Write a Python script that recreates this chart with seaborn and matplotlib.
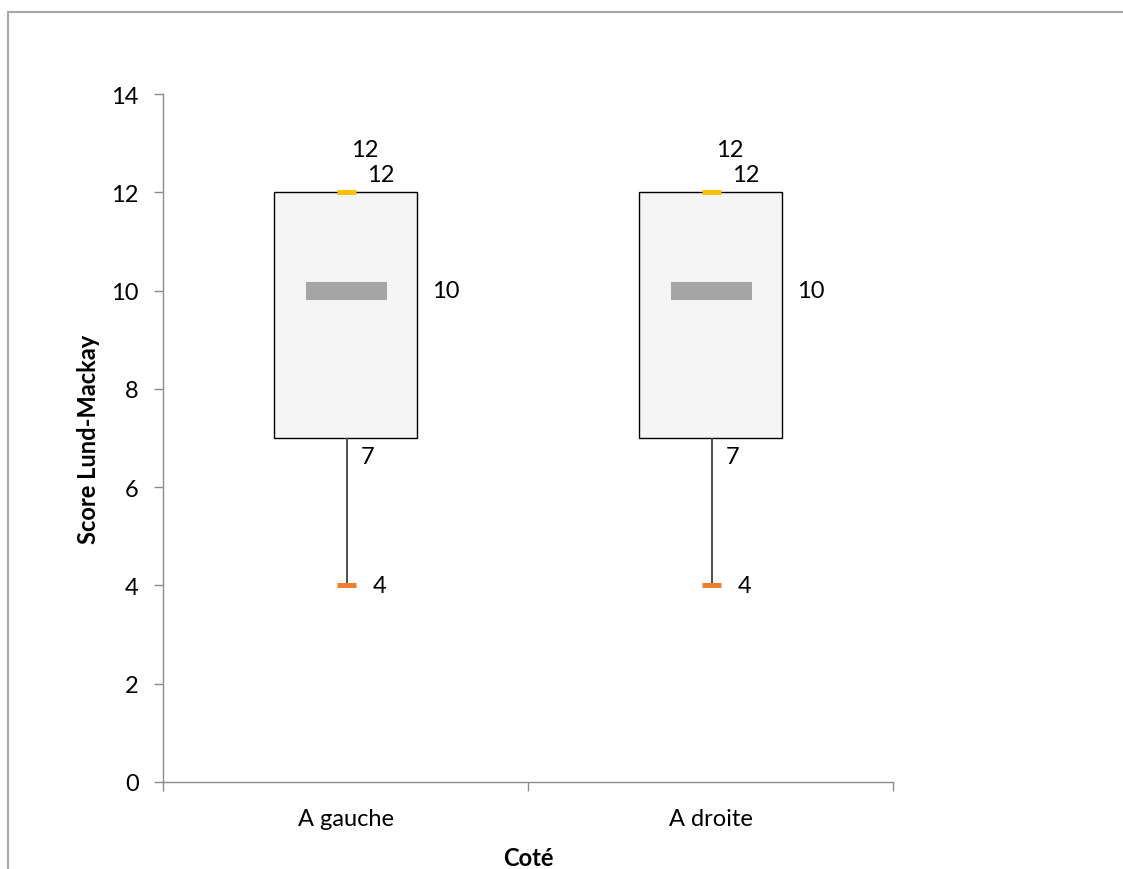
import matplotlib

matplotlib.use("Agg")

import matplotlib.pyplot as plt
import numpy as np
import pandas as pd
import seaborn as sns

# box plot statistics (Excel style stacked box)
categories = ["A gauche", "A droite"]
min_vals = [4, 4]
q1_vals = [7, 7]
median_vals = [10, 10]
q3_vals = [12, 12]
max_vals = [12, 12]

y_ticks = [0, 2, 4, 6, 8, 10, 12, 14]

sns.set_theme(style="white")
plt.rcParams["font.family"] = ["Lato", "DejaVu Sans"]
plt.rcParams["text.color"] = "black"
plt.rcParams["axes.labelcolor"] = "black"

df = pd.DataFrame({
    "cote": categories,
    "q1": q1_vals,
    "box": np.array(q3_vals) - np.array(q1_vals),
})

fig = plt.figure(figsize=(11.23, 8.70), dpi=100)
ax = fig.add_axes([163 / 1123, 1 - 783 / 870, 730 / 1123, 688 / 870])

# the box itself: bar from Q1 to Q3
sns.barplot(data=df, x="cote", y="box", bottom=df["q1"], ax=ax, width=0.39,
            color="#F5F5F5", saturation=1, edgecolor="black", linewidth=1.0)

pos = np.arange(len(categories)) + 0.003
ax.vlines(pos, min_vals, q1_vals, color="#404040", linewidth=1.3, zorder=2)
ax.hlines(median_vals, pos - 0.111, pos + 0.111, color="#A5A5A5", linewidth=13, zorder=3)
ax.hlines(max_vals, pos - 0.027, pos + 0.027, color="#FFC000", linewidth=3.6, zorder=4)
ax.hlines(min_vals, pos - 0.027, pos + 0.027, color="#ED7D31", linewidth=3.6, zorder=4)

fs = 17
for i in range(len(categories)):
    p = pos[i]
    ax.annotate(f"{max_vals[i]}", (p, max_vals[i]), xytext=(18, 43),
                textcoords="offset pixels", ha="center", va="center", fontsize=fs)
    ax.annotate(f"{q3_vals[i]}", (p, q3_vals[i]), xytext=(34, 18),
                textcoords="offset pixels", ha="center", va="center", fontsize=fs)
    ax.annotate(f"{median_vals[i]}", (p, median_vals[i]), xytext=(99, 0),
                textcoords="offset pixels", ha="center", va="center", fontsize=fs)
    ax.annotate(f"{q1_vals[i]}", (p, q1_vals[i]), xytext=(21, -18),
                textcoords="offset pixels", ha="center", va="center", fontsize=fs)
    ax.annotate(f"{min_vals[i]}", (p, min_vals[i]), xytext=(33, 0),
                textcoords="offset pixels", ha="center", va="center", fontsize=fs)

ax.set_ylim(0, 14)
ax.set_xlim(-0.5, 1.5)
ax.set_yticks(y_ticks)
ax.set_xticks(range(len(categories)))
ax.set_xticklabels(categories)
ax.set_xticks([-0.5, 0.5, 1.5], minor=True)

grey = "#8C8C8C"
for s in ["top", "right"]:
    ax.spines[s].set_visible(False)
for s in ["left", "bottom"]:
    ax.spines[s].set_color(grey)
    ax.spines[s].set_linewidth(1.0)

ax.tick_params(axis="y", which="major", direction="out", length=6.5, color=grey,
               width=1.0, pad=11, labelsize=fs, labelcolor="black", left=True)
ax.tick_params(axis="x", which="major", length=0, pad=19, labelsize=fs, labelcolor="black")
ax.tick_params(axis="x", which="minor", direction="out", length=6.5, color=grey,
               width=1.0, bottom=True)

ax.set_xlabel("Coté", fontsize=fs, fontweight="bold")
ax.set_ylabel("Score Lund-Mackay", fontsize=fs, fontweight="bold")
ax.xaxis.set_label_coords(0.5, -0.093)
ax.yaxis.set_label_coords(-0.086, 0.5)

# outer chart border (cropped on the right and bottom, as in the source)
fig.patches.append(plt.Rectangle((8 / 1123, -0.1), 2, 1 - 13 / 870 + 0.1,
                                 transform=fig.transFigure, fill=False,
                                 edgecolor="#A6A6A6", linewidth=1.5))

fig.savefig("out.png", dpi=100)
